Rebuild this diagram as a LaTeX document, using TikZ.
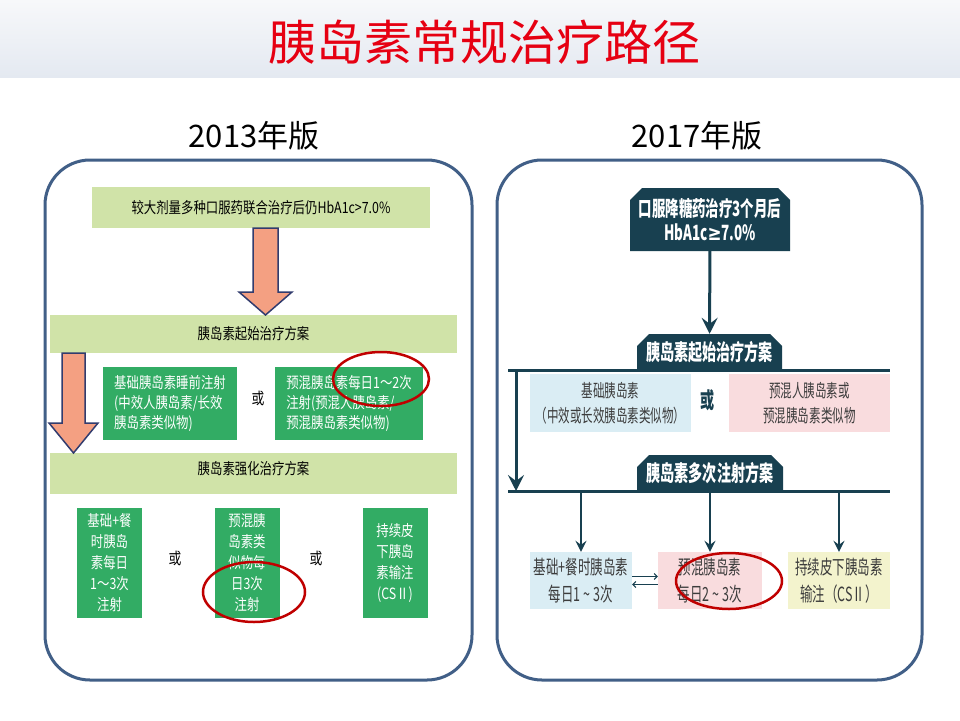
\documentclass[tikz,border=0pt]{standalone}
\usepackage{fontspec}
\setmainfont{Noto Sans CJK SC}
\newfontfamily\lfont[FakeStretch=0.8]{Noto Sans CJK SC}
\newfontfamily\rfont[FakeStretch=0.64]{Noto Sans CJK SC}
\newfontfamily\symfont[FakeStretch=0.8]{DejaVu Sans}
\usetikzlibrary{arrows.meta,shapes.misc}
\definecolor{titlered}{RGB}{230,0,18}
\definecolor{panelblue}{RGB}{65,95,135}
\definecolor{lightgreen}{RGB}{208,227,168}
\definecolor{darkgreen}{RGB}{50,172,100}
\definecolor{salmon}{RGB}{244,160,130}
\definecolor{arrowblue}{RGB}{50,60,110}
\definecolor{teal}{RGB}{24,64,80}
\definecolor{lightblue}{RGB}{218,237,244}
\definecolor{lightpink}{RGB}{249,220,222}
\definecolor{lightyellow}{RGB}{243,243,205}
\definecolor{ringred}{RGB}{192,0,0}
\definecolor{textgray}{RGB}{60,60,60}
\tikzset{
  panel/.style={draw=panelblue, line width=3pt, rounded corners=45pt},
  lband/.style={fill=lightgreen, inner sep=0pt, font=\lfont\fontsize{15.5}{20}\selectfont},
  lbox/.style={fill=darkgreen, text=white, inner sep=0pt, font=\lfont\fontsize{15.5}{20}\selectfont},
  lnarrow/.style={lbox, minimum width=65pt, minimum height=110pt, align=center, font=\lfont\fontsize{15.5}{21}\selectfont},
  fatarrow/.style={fill=salmon, draw=arrowblue, line width=1.5pt, line join=miter},
  darkbox/.style={chamfered rectangle, chamfered rectangle corners={north west,north east},
    chamfered rectangle xsep=6pt, chamfered rectangle ysep=6pt,
    fill=teal, text=white, inner sep=0pt, font=\rfont\bfseries\fontsize{21}{24}\selectfont},
  rbox/.style={inner sep=0pt, align=center, text=textgray, font=\rfont\fontsize{18}{25}\selectfont},
  rlow/.style={rbox, minimum height=57pt, font=\rfont\fontsize{19.5}{27}\selectfont},
  tealline/.style={draw=teal, line width=3pt},
  tealarrow/.style={draw=teal, line width=3pt, -{Stealth[length=16pt,width=16pt,inset=6pt]}},
  thinarrow/.style={draw=teal, line width=2pt, -{Stealth[length=11pt,width=11pt,inset=4pt]}},
  swaparrow/.style={draw=teal, line width=1pt, -{Straight Barb[length=3pt,width=6pt]}},
  ring/.style={draw=ringred, line width=2.5pt},
  ornode/.style={font=\lfont\fontsize{16}{16}\selectfont}
}
\begin{document}
\begin{tikzpicture}[x=1pt,y=-1pt]
  \useasboundingbox (0,0) rectangle (960,720);
  \fill[white] (0,0) rectangle (960,720);

  % Title
  \shade[top color={rgb,255:red,247;green,248;blue,250}, bottom color={rgb,255:red,228;green,233;blue,241}] (0,0) rectangle (960,77);
  \node[text=titlered, font=\fontsize{48}{48}\selectfont] (title) at (484,42) {胰岛素常规治疗路径};
  \node[font=\fontsize{31}{31}\selectfont] (old) at (254,136) {2013年版};
  \node[font=\fontsize{31}{31}\selectfont] (new) at (697,136) {2017年版};

  % Panels
  \draw[panel] (45,160) rectangle (472,680);
  \draw[panel] (497,160) rectangle (922,680);

  % 2013 flow
  \node[lband, minimum width=338pt, minimum height=41pt] (l0) at (261,207.5) {较大剂量多种口服药联合治疗后仍HbA1c>7.0\%};
  \node[lband, minimum width=407pt, minimum height=38pt] (l1) at (253.5,334) {胰岛素起始治疗方案};
  \node[lbox, minimum width=134pt, minimum height=73pt, align=left] (l11) at (170,403.5)
    {基础胰岛素睡前注射\\(中效人胰岛素/长效\\胰岛素类似物)};
  \node[ornode] (lor1) at (258,398) {或};
  \node[lbox, minimum width=148pt, minimum height=73pt, align=left] (l12) at (349,403.5)
    {预混胰岛素每日1～2次\\注射(预混人胰岛素/\\预混胰岛素类似物)};
  \node[lband, minimum width=407pt, minimum height=41pt, text depth=12pt] (l2) at (253.5,473.5) {胰岛素强化治疗方案};
  \node[lnarrow] (l21) at (109.5,563) {基础+餐\\时胰岛\\素每日\\1～3次\\注射};
  \node[ornode] (lor2) at (175,558) {或};
  \node[lnarrow] (l22) at (247,563) {预混胰\\岛素类\\似物每\\日3次\\注射};
  \node[ornode] (lor3) at (316,558) {或};
  \node[lnarrow] (l23) at (395,563) {持续皮\\下胰岛\\素输注\\(CSⅡ)};

  % Fat arrows
  \draw[fatarrow] (253,228) -- (278,228) -- (278,292) -- (292,292) -- (265.5,315) -- (239,292) -- (253,292) -- cycle;
  \draw[fatarrow] (62,353) -- (85,353) -- (85,423) -- (98,423) -- (73.5,453) -- (49,423) -- (62,423) -- cycle;

  % 2017 flow
  \node[darkbox, minimum width=160pt, minimum height=63pt, align=center] (r0) at (710,219.5)
    {口服降糖药治疗3个月后\\HbA1c{\symfont\bfseries ≥}7.0\%};
  \node[darkbox, minimum width=145pt, minimum height=36pt, font=\rfont\bfseries\fontsize{22}{22}\selectfont] (r1) at (709.5,352) {胰岛素起始治疗方案};
  \coordinate (r1w) at (508,370);
  \coordinate (r1e) at (890,370);
  \coordinate (rdown) at (516,370);
  \node[rbox, fill=lightblue, minimum width=161pt, minimum height=58pt] (r11) at (610.5,403)
    {基础胰岛素\\（中效或长效胰岛素类似物）};
  \node[text=teal, font=\rfont\bfseries\fontsize{22}{22}\selectfont] (ror) at (708,400) {或};
  \node[rbox, fill=lightpink, minimum width=161pt, minimum height=58pt] (r12) at (809.5,403)
    {预混人胰岛素或\\预混胰岛素类似物};
  \node[darkbox, minimum width=146pt, minimum height=37pt, font=\rfont\bfseries\fontsize{22}{22}\selectfont] (r2) at (710,473.5) {胰岛素多次注射方案};
  \coordinate (r2w) at (508,491);
  \coordinate (r2e) at (890,491);
  \node[rlow, fill=lightblue, minimum width=102pt] (r21) at (581,580.5) {基础+餐时胰岛素\\每日1\,\textasciitilde\,3次};
  \node[rlow, fill=lightpink, minimum width=104pt] (r22) at (710,580.5) {预混胰岛素\\每日2\,\textasciitilde\,3次};
  \node[rlow, fill=lightyellow, minimum width=102pt] (r23) at (839,580.5) {持续皮下胰岛素\\输注（CSⅡ）};

  \draw[tealarrow] (r0) -- (r1);
  \draw[tealline] (r1w) -- (r1e);
  \draw[tealarrow] (rdown) -- (rdown |- r2w);
  \draw[tealline] (r2w) -- (r2e);
  \foreach \n in {r21,r22,r23}
    \draw[thinarrow] (\n.north |- r2w) -- (\n.north);
  \draw[swaparrow] ([yshift=4pt]r21.east) -- ([yshift=4pt]r22.west);
  \draw[swaparrow] ([yshift=-4pt]r22.west) -- ([yshift=-4pt]r21.east);

  % Red rings
  \draw[ring] (381,379) ellipse [x radius=48, y radius=27];
  \draw[ring] (254,592) ellipse [x radius=51, y radius=30];
  \draw[ring] (729,581) ellipse [x radius=53, y radius=28];
\end{tikzpicture}
\end{document}
